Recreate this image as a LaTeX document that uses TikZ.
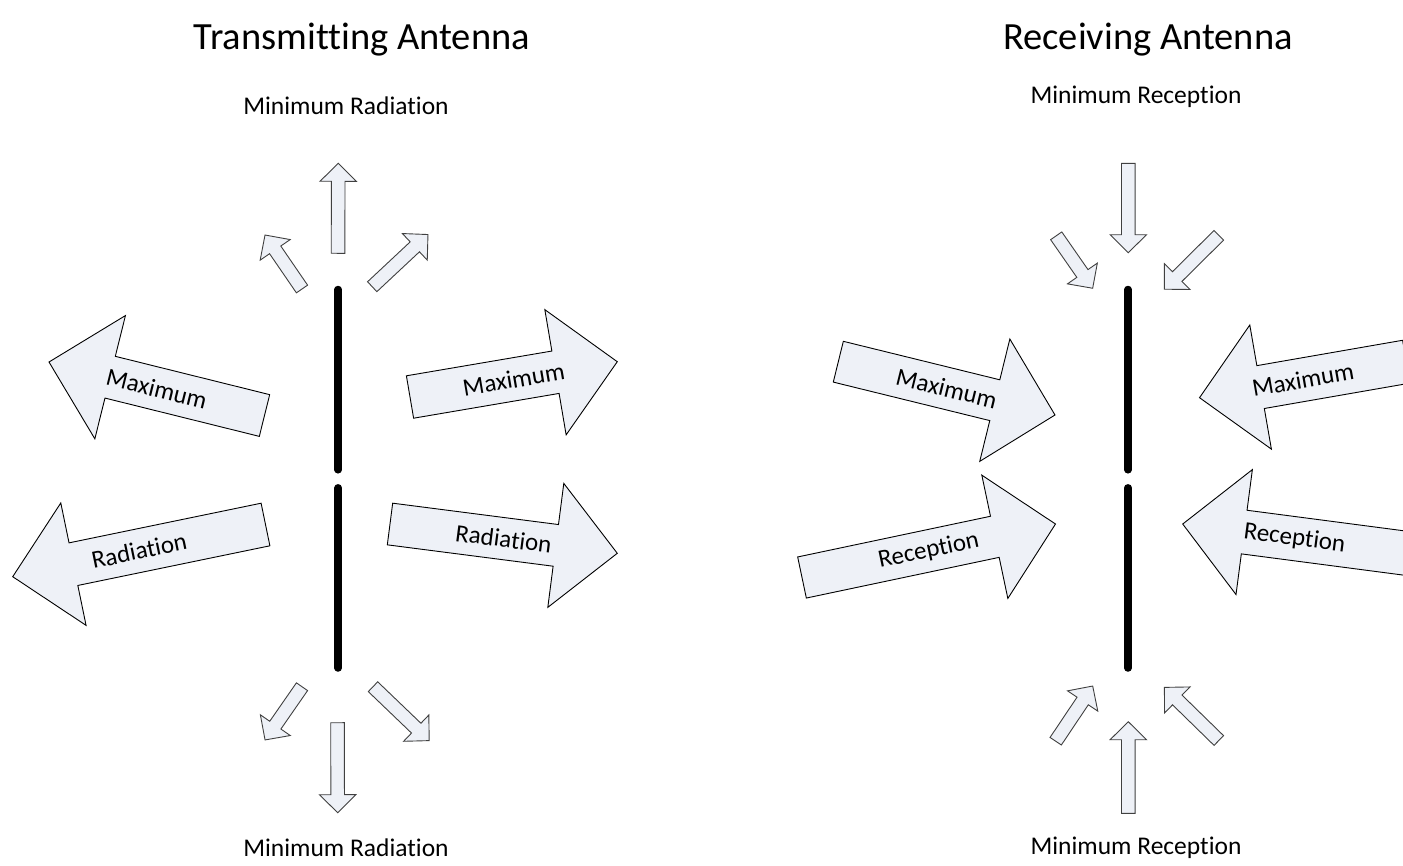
\documentclass[tikz,border=0pt]{standalone}
\usepackage{fontspec}
\setmainfont{Carlito}[Ligatures=NoCommon]
\definecolor{arrowfill}{RGB}{238,241,247}
\tikzset{
  barrow/.style={draw=black, line width=0.9bp, fill=arrowfill, line join=miter},
  sarrow/.style={draw=black!75, line width=0.9bp, fill=arrowfill, line join=miter},
  lbl/.style={font=\fontsize{25.5bp}{30bp}\selectfont, inner sep=0pt},
  albl/.style={font=\fontsize{25bp}{30bp}\selectfont, inner sep=0pt},
  ttl/.style={font=\fontsize{38.5bp}{45bp}\selectfont, inner sep=0pt},
  antenna/.style={line width=7.5bp, line cap=round},
}
% #1 name, #2,#3 tail, #4,#5 tip, #6 shaft width, #7 head width, #8 head length, #9 label
\newcommand\bigarrow[9]{%
  \pgfmathsetmacro\baang{atan2(#3-#5,#4-#2)}%
  \pgfmathsetmacro\balen{veclen(#4-#2,#5-#3)}%
  \pgfmathsetmacro\batxt{cos(\baang)<0 ? \baang+180 : \baang}%
  \begin{scope}[shift={(#2,#3)}, rotate=\baang]
    \path[barrow] (0,{-#6/2}) -- ({\balen-#8},{-#6/2}) -- ({\balen-#8},{-#7/2})
      -- (\balen,0) -- ({\balen-#8},{#7/2}) -- ({\balen-#8},{#6/2}) -- (0,{#6/2}) -- cycle;
  \end{scope}
  \node[albl, rotate=\batxt] (#1) at ({(#2+#4)/2},{(#3+#5)/2}) {#9};}
% #1,#2 tail, #3,#4 tip
\newcommand\smallarrow[4]{%
  \pgfmathsetmacro\baang{atan2(#2-#4,#3-#1)}%
  \pgfmathsetmacro\balen{veclen(#3-#1,#4-#2)}%
  \begin{scope}[shift={(#1,#2)}, rotate=\baang]
    \path[sarrow] (0,-6.8) -- ({\balen-18},-6.8) -- ({\balen-18},-18.2)
      -- (\balen,0) -- ({\balen-18},18.2) -- ({\balen-18},6.8) -- (0,6.8) -- cycle;
  \end{scope}}
\begin{document}
\begin{tikzpicture}[x=1bp,y=-1bp]
\useasboundingbox (0,0) rectangle (1403,865);
\clip (0,0) rectangle (1403,865);

% titles and labels
\node[ttl] (t1) at (362,40) {Transmitting Antenna};
\node[ttl] (t2) at (1148,40) {Receiving Antenna};
\node[lbl] (mr1) at (346,106) {Minimum Radiation};
\node[lbl] (mr2) at (346,848) {Minimum Radiation};
\node[lbl] (mc1) at (1136,97) {Minimum Reception};
\node[lbl] (mc2) at (1136,848) {Minimum Reception};

% antennas
\coordinate (ta1) at (338.2,289.5);
\coordinate (ta2) at (338.2,469.8);
\coordinate (ta3) at (338.2,487.8);
\coordinate (ta4) at (338.2,668);
\coordinate (ra1) at (1128,289.5);
\coordinate (ra2) at (1128,469.8);
\coordinate (ra3) at (1128,487.8);
\coordinate (ra4) at (1128,668);
\draw[antenna] (ta1) -- (ta2);
\draw[antenna] (ta3) -- (ta4);
\draw[antenna] (ra1) -- (ra2);
\draw[antenna] (ra3) -- (ra4);

% transmitting: big arrows
\bigarrow{l1}{264.5}{415.5}{49}{362}{43}{127}{63}{Maximum}
\bigarrow{l2}{265.5}{524.5}{12.7}{576.7}{43.5}{125}{62}{Radiation}
\bigarrow{r1}{410}{397}{617.3}{361.7}{43}{127}{62.7}{Maximum}
\bigarrow{r2}{390}{524}{617.3}{553.3}{42}{125}{62}{Radiation}

% transmitting: small arrows
\smallarrow{338}{253.3}{338.3}{163.3}
\smallarrow{302}{289}{265}{235}
\smallarrow{372.2}{286.7}{428}{234.5}
\smallarrow{337.5}{722.7}{337.7}{812.7}
\smallarrow{302}{686.7}{265}{740}
\smallarrow{373}{686.7}{429.3}{740.7}

% receiving: big arrows
\bigarrow{rl1}{838.3}{361.7}{1055}{415}{42}{126}{62}{Maximum}
\bigarrow{rl2}{802}{577.5}{1055.5}{524}{42}{126}{62}{Reception}
\bigarrow{rr1}{1406.3}{361.7}{1199.5}{397.7}{43.5}{126}{62}{Maximum}
\bigarrow{rr2}{1406.3}{553.3}{1182.7}{524}{44}{126}{62}{Reception}

% receiving: small arrows
\smallarrow{1128.3}{163.3}{1128.3}{252.7}
\smallarrow{1056.2}{235.8}{1092.7}{288.3}
\smallarrow{1218.8}{235.3}{1164.3}{289.3}
\smallarrow{1128.3}{813.3}{1128.3}{721.7}
\smallarrow{1055.7}{741.2}{1092.7}{686}
\smallarrow{1218.8}{740.5}{1164.3}{687.3}
\end{tikzpicture}
\end{document}
